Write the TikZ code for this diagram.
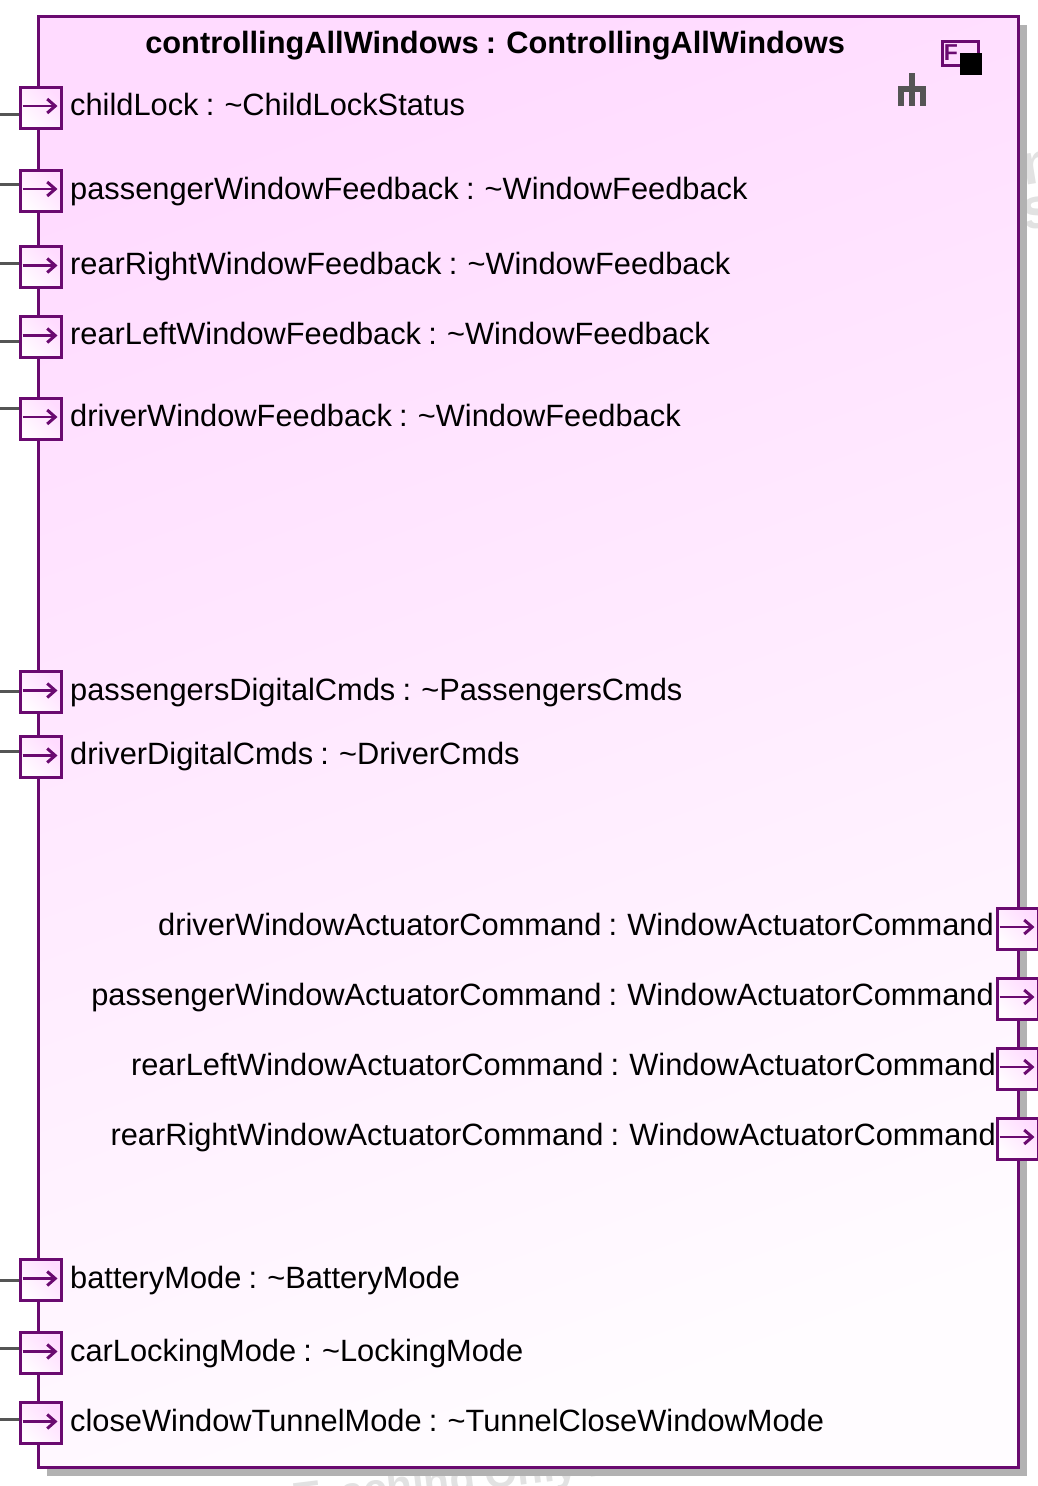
\documentclass[tikz,border=0pt]{standalone}
\usepackage{fontspec}
\usepackage{xcolor}
\setmainfont[WordSpace=0.85]{Liberation Sans}
\usetikzlibrary{arrows.meta}
\definecolor{blockline}{HTML}{6A0A70}
\definecolor{blocktop}{HTML}{FFDBFF}
\definecolor{blockbottom}{HTML}{FFFCFF}
\definecolor{shadowgray}{HTML}{B2B2B2}
\definecolor{stubgray}{HTML}{555555}
\definecolor{markgray}{HTML}{E2E2E2}
\newcommand{\portflow}[1]{\draw[flow] ([xshift=4pt,yshift=1.5pt]#1.west) -- ([xshift=-5pt,yshift=1.5pt]#1.east);}
\tikzset{
  blockbox/.style={draw=blockline, line width=3pt, top color=blocktop, bottom color=blockbottom, shading angle=20, minimum width=979.5pt, minimum height=1451pt, inner sep=0pt},
  portbox/.style={draw=blockline, line width=3pt, left color=blocktop, right color=blockbottom, shading angle=-45, minimum size=41pt, inner sep=0pt},
  portlabel/.style={anchor=base west, inner sep=0pt, font=\fontsize{30.8}{36}\selectfont},
  rightlabel/.style={anchor=base east, inner sep=0pt, font=\fontsize{30.8}{36}\selectfont},
  watermark/.style={anchor=base west, inner sep=0pt, text=markgray},
  stub/.style={draw=stubgray, line width=3pt},
  flow/.style={draw=blockline, line width=2.8pt, -{Straight Barb[length=8pt,width=14pt,line width=3pt]}}
}
\begin{document}
\begin{tikzpicture}[x=1pt, y=-1pt]
\useasboundingbox (0,0) rectangle (1038,1486);
\clip (0,0) rectangle (1038,1486);
% faint text behind the block
\node[watermark, rotate=7, font=\fontsize{42}{44}\selectfont\bfseries] (markbottom) at (296.5,1513) {Teaching Only Pro};
\node[watermark, rotate=9, font=\fontsize{58}{60}\selectfont\bfseries] (markn) at (1024,186) {n};
\node[watermark, rotate=9, font=\fontsize{58}{60}\selectfont\bfseries] (marks) at (1024,231) {s};
% block
\fill[shadowgray] (47,25) rectangle (1027,1475.5);
\node[blockbox] (block) at (528.25,741.5) {};
\node[anchor=base, inner sep=0pt, font=\fontsize{30.8}{36}\selectfont\bfseries] (title) at (495,53) {controllingAllWindows : ControllingAllWindows};
% icons
\draw[draw=blockline, line width=3pt, fill=blocktop] (942,41) rectangle (978,65);
\node[inner sep=0pt, text=blockline, font=\fontsize{23}{24}\selectfont\bfseries] (fmark) at (951,53) {F};
\fill[black] (960,53) rectangle (982,75);
\draw[draw=stubgray, line width=5.5pt] (912,73) -- (912,106);
\draw[draw=stubgray, line width=5.5pt] (901,106) -- (901,89) -- (923,89) -- (923,106);
% left ports
\node[portbox] (childLock) at (40.5,107.5) {};
\node[portbox] (passengerFb) at (40.5,190.5) {};
\node[portbox] (rearRightFb) at (40.5,267) {};
\node[portbox] (rearLeftFb) at (40.5,337) {};
\node[portbox] (driverFb) at (40.5,418.5) {};
\node[portbox] (passengersCmds) at (40.5,692) {};
\node[portbox] (driverCmds) at (40.5,757) {};
\node[portbox] (batteryMode) at (40.5,1280) {};
\node[portbox] (lockingMode) at (40.5,1353) {};
\node[portbox] (tunnelMode) at (40.5,1423) {};
% right ports
\node[portbox] (driverAct) at (1017.5,928.5) {};
\node[portbox] (passengerAct) at (1017.5,998.5) {};
\node[portbox] (rearLeftAct) at (1017.5,1068.5) {};
\node[portbox] (rearRightAct) at (1017.5,1138.5) {};
% stubs
\coordinate (s1) at (0,114);
\coordinate (s2) at (0,184);
\coordinate (s3) at (0,263);
\coordinate (s4) at (0,341);
\coordinate (s5) at (0,408);
\coordinate (s6) at (0,691);
\coordinate (s7) at (0,751);
\coordinate (s8) at (0,1280);
\coordinate (s9) at (0,1348);
\coordinate (s10) at (0,1419);
\draw[stub] (s1) -- (s1 -| childLock.west);
\draw[stub] (s2) -- (s2 -| passengerFb.west);
\draw[stub] (s3) -- (s3 -| rearRightFb.west);
\draw[stub] (s4) -- (s4 -| rearLeftFb.west);
\draw[stub] (s5) -- (s5 -| driverFb.west);
\draw[stub] (s6) -- (s6 -| passengersCmds.west);
\draw[stub] (s7) -- (s7 -| driverCmds.west);
\draw[stub] (s8) -- (s8 -| batteryMode.west);
\draw[stub] (s9) -- (s9 -| lockingMode.west);
\draw[stub] (s10) -- (s10 -| tunnelMode.west);
% port arrows
\portflow{childLock}
\portflow{passengerFb}
\portflow{rearRightFb}
\portflow{rearLeftFb}
\portflow{driverFb}
\portflow{passengersCmds}
\portflow{driverCmds}
\portflow{batteryMode}
\portflow{lockingMode}
\portflow{tunnelMode}
\portflow{driverAct}
\portflow{passengerAct}
\portflow{rearLeftAct}
\portflow{rearRightAct}
% labels
\node[portlabel] (lab1) at (70,115) {childLock : \textasciitilde ChildLockStatus};
\node[portlabel] (lab2) at (70,199) {passengerWindowFeedback : \textasciitilde WindowFeedback};
\node[portlabel] (lab3) at (70,274) {rearRightWindowFeedback : \textasciitilde WindowFeedback};
\node[portlabel] (lab4) at (70,344) {rearLeftWindowFeedback : \textasciitilde WindowFeedback};
\node[portlabel] (lab5) at (70,426) {driverWindowFeedback : \textasciitilde WindowFeedback};
\node[portlabel] (lab6) at (70,700) {passengersDigitalCmds : \textasciitilde PassengersCmds};
\node[portlabel] (lab7) at (70,764) {driverDigitalCmds : \textasciitilde DriverCmds};
\node[portlabel] (lab8) at (70,1288) {batteryMode : \textasciitilde BatteryMode};
\node[portlabel] (lab9) at (70,1361) {carLockingMode : \textasciitilde LockingMode};
\node[portlabel] (lab10) at (70,1431) {closeWindowTunnelMode : \textasciitilde TunnelCloseWindowMode};
\node[rightlabel] (lab11) at (994,935) {driverWindowActuatorCommand : WindowActuatorCommand};
\node[rightlabel] (lab12) at (994,1005) {passengerWindowActuatorCommand : WindowActuatorCommand};
\node[rightlabel] (lab13) at (996,1075) {rearLeftWindowActuatorCommand : WindowActuatorCommand};
\node[rightlabel] (lab14) at (996,1145) {rearRightWindowActuatorCommand : WindowActuatorCommand};
\end{tikzpicture}
\end{document}
